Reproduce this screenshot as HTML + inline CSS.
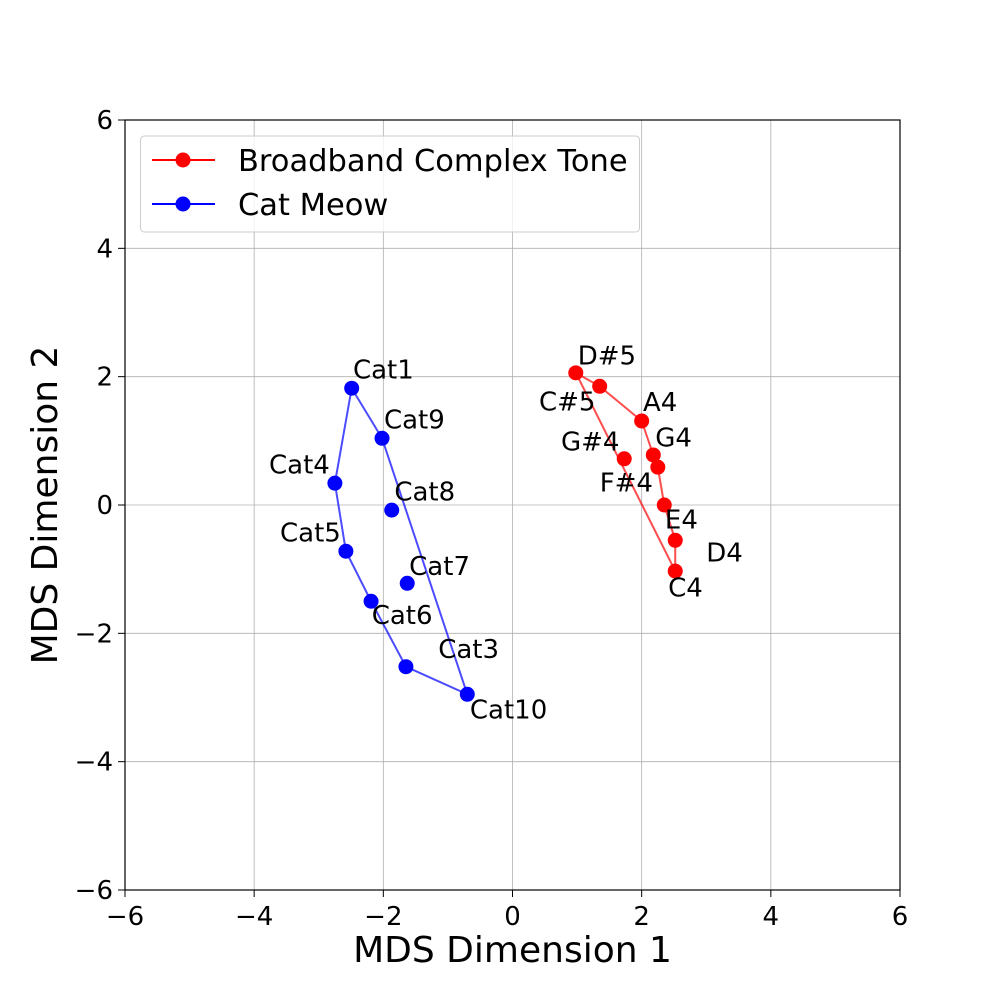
<!DOCTYPE html>
<html><head><meta charset="utf-8"><style>
body{margin:0;background:#fff;}
svg{display:block;font-family:"DejaVu Sans","Liberation Sans",sans-serif;}
</style></head><body>
<svg id="chart" width="1000" height="1000" xmlns="http://www.w3.org/2000/svg">
<rect width="1000" height="1000" fill="#fff"/>
<g id="grid"></g>
<g id="hulls"></g>
<g id="points"></g>
<g id="labels"></g>
<rect x="125" y="120" width="775" height="770" fill="none" stroke="#000" stroke-width="1.2"/>
<g id="ticks"></g>
<text x="512.5" y="962" font-size="36" text-anchor="middle">MDS Dimension 1</text>
<text transform="translate(57,505) rotate(-90)" font-size="36" text-anchor="middle">MDS Dimension 2</text>
<g>
<rect x="140.5" y="136" width="499" height="96" rx="4" fill="#fff" fill-opacity="0.8" stroke="#ccc"/>
<g>
<line x1="152" y1="160" x2="215" y2="160" stroke="#f00" stroke-width="2"/>
<circle cx="183" cy="160" r="7.5" fill="#f00"/>
<text x="238" y="171" font-size="30.5">Broadband Complex Tone</text>
</g>
<g>
<line x1="152" y1="204" x2="215" y2="204" stroke="#00f" stroke-width="2"/>
<circle cx="183" cy="204" r="7.5" fill="#00f"/>
<text x="238" y="215" font-size="30.5">Cat Meow</text>
</g>
</g>
</svg>
<script>
const ticks = [-6,-4,-2,0,2,4,6];
const toneNames = ["D#5","C#5","A4","G4","G#4","F#4","E4","D4","C4"];
const toneX = [0.98,1.35,2.0,2.18,1.73,2.25,2.35,2.52,2.52];
const toneY = [2.06,1.85,1.31,0.78,0.72,0.59,0.0,-0.55,-1.03];
const toneLabelX = [1.01,0.41,2.02,2.21,0.75,1.35,2.36,3.0,2.41];
const toneLabelY = [2.34,1.62,1.61,1.06,1.0,0.36,-0.22,-0.73,-1.28];
const toneHull = [0,1,2,3,5,6,7,8];
const catNames = ["Cat1","Cat9","Cat4","Cat8","Cat5","Cat7","Cat6","Cat3","Cat10"];
const catX = [-2.49,-2.02,-2.75,-1.87,-2.58,-1.63,-2.19,-1.65,-0.70];
const catY = [1.82,1.04,0.34,-0.08,-0.72,-1.22,-1.50,-2.52,-2.95];
const catLabelX = [-2.47,-1.99,-3.77,-1.83,-3.6,-1.6,-2.18,-1.15,-0.66];
const catLabelY = [2.12,1.34,0.64,0.22,-0.42,-0.94,-1.71,-2.24,-3.18];
const catHull = [0,1,8,7,6,4,2];

const X0=125,X1=900,Y0=890,Y1=120;
const sx = v => X0+(v+6)/12*(X1-X0);
const sy = v => Y0-(v+6)/12*(Y0-Y1);
const NS="http://www.w3.org/2000/svg";
function mk(tag, attrs, parent){const e=document.createElementNS(NS,tag);for(const k in attrs)e.setAttribute(k,attrs[k]);document.getElementById(parent).appendChild(e);return e;}

ticks.forEach(t=>{
  let g=mk('line',{x1:sx(t),x2:sx(t),y1:Y1,y2:Y0,stroke:'#b0b0b0','stroke-width':0.8},'grid');
  
  
  g=mk('line',{x1:X0,x2:X1,y1:sy(t),y2:sy(t),stroke:'#b0b0b0','stroke-width':0.8},'grid');
  
  
  mk('line',{x1:sx(t),x2:sx(t),y1:Y0,y2:Y0+7,stroke:'#000','stroke-width':1},'ticks');
  mk('line',{x1:X0-7,x2:X0,y1:sy(t),y2:sy(t),stroke:'#000','stroke-width':1},'ticks');
  const lbl=(t<0?'\u2212':'')+Math.abs(t);
  let tx=mk('text',{x:sx(t),y:Y0+35,'font-size':26,'text-anchor':'middle'},'ticks');
  tx.textContent=lbl;
  
  
  let ty=mk('text',{x:X0-12,y:sy(t)+9,'font-size':26,'text-anchor':'end'},'ticks');
  ty.textContent=lbl;
  
  
});

function series(xs,ys,names,lx,ly,hull,color,key){
  const pts=hull.map(i=>sx(xs[i])+','+sy(ys[i])).join(' ');
  const p=mk('polygon',{points:pts,fill:'none',stroke:color,'stroke-opacity':0.7,'stroke-width':2},'hulls');
  
  
  xs.forEach((x,i)=>{
    const c=mk('circle',{cx:sx(x),cy:sy(ys[i]),r:7.5,fill:color},'points');
    
    
    const t=mk('text',{x:sx(lx[i]),y:sy(ly[i])+9.5,'font-size':26},'labels');
    t.textContent=names[i];
    
    
  });
}
series(toneX,toneY,toneNames,toneLabelX,toneLabelY,toneHull,'#f00','tone');
series(catX,catY,catNames,catLabelX,catLabelY,catHull,'#00f','cat');
</script>
</body></html>
